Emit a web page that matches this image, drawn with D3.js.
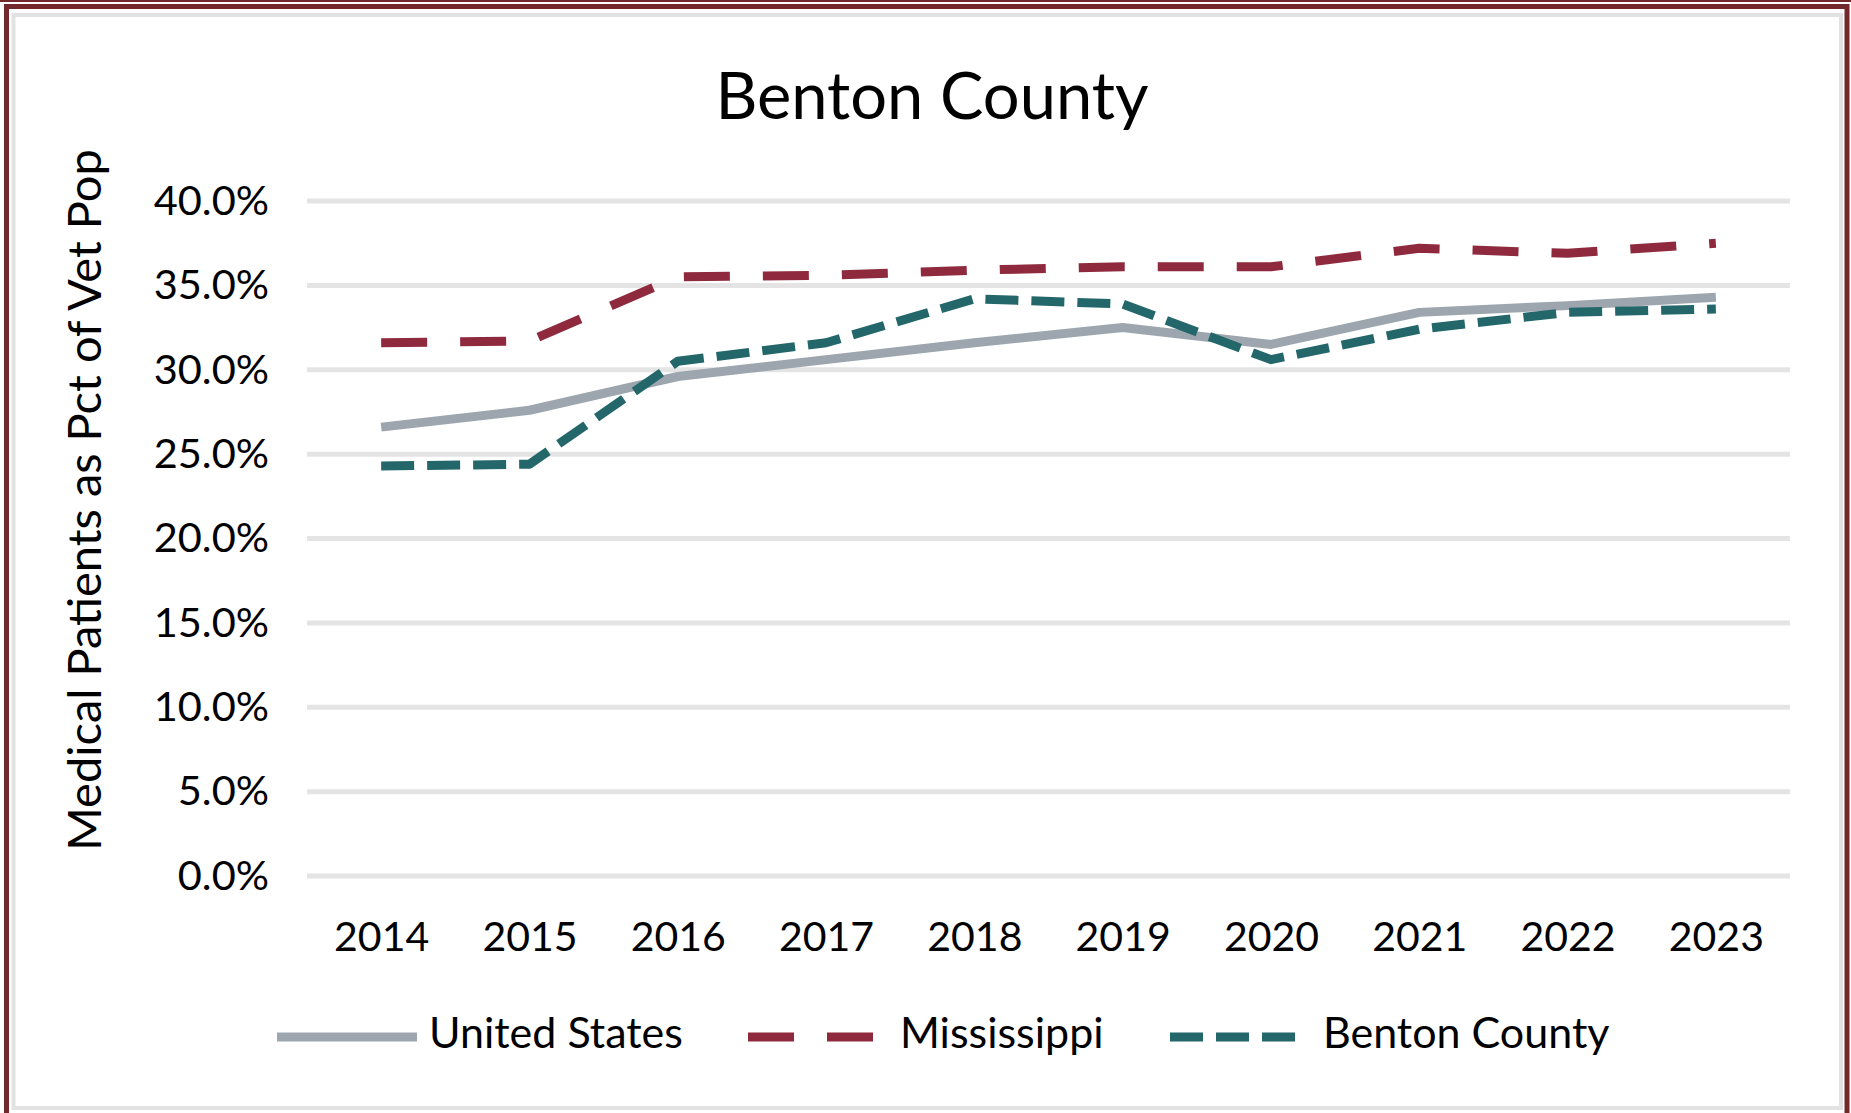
<!DOCTYPE html>
<html>
<head>
<meta charset="utf-8" />
<script src="https://cdn.jsdelivr.net/npm/d3@7"></script>
<style>
  html, body { margin: 0; padding: 0; background: #fff; }
  #svg-container { width: 1851px; height: 1113px; }
  text { font-family: Lato, "Open Sans", sans-serif; fill: #000; }
</style>
</head>
<body>
<div id="svg-container"></div>
<script>
////////////////////////////////////////////////////////////////////
////////////////////////////  Data  ////////////////////////////////
const years = [2014, 2015, 2016, 2017, 2018, 2019, 2020, 2021, 2022, 2023];
const usValues = [26.6, 27.6, 29.6, 30.6, 31.6, 32.5, 31.5, 33.4, 33.8, 34.3];
const msValues = [31.6, 31.7, 35.5, 35.6, 35.9, 36.1, 36.1, 37.2, 36.9, 37.5];
const bentonValues = [24.3, 24.4, 30.5, 31.6, 34.2, 33.9, 30.6, 32.4, 33.4, 33.6];
const yTicks = [0, 5, 10, 15, 20, 25, 30, 35, 40];
const seriesNames = ["United States", "Mississippi", "Benton County"];

////////////////////////////////////////////////////////////////////
////////////////////////////  Init  ////////////////////////////////
const width = 1851;
const height = 1113;
const margin = { top: 201, right: 61, bottom: 237, left: 307 };

const svg = d3
  .select("#svg-container")
  .append("svg")
  .attr("width", width)
  .attr("height", height);

// frame (dark red outer, light gray inner)
svg.append("rect").attr("width", width).attr("height", height).attr("fill", "#fff");
svg
  .append("line")
  .attr("x1", 0).attr("x2", width).attr("y1", 1).attr("y2", 1)
  .attr("stroke", "#73292b").attr("stroke-width", 2);
svg
  .append("rect")
  .attr("x", 6.5).attr("y", 6.5)
  .attr("width", 1840.5).attr("height", 1200)
  .attr("fill", "none").attr("stroke", "#73292b").attr("stroke-width", 5);
svg
  .append("rect")
  .attr("x", 13.5).attr("y", 15)
  .attr("width", 1827.5).attr("height", 1093)
  .attr("fill", "none").attr("stroke", "#e2e2e2").attr("stroke-width", 4);

// scale
const xScale = d3
  .scalePoint()
  .domain(years)
  .range([margin.left, width - margin.right])
  .padding(0.5);

const yScale = d3
  .scaleLinear()
  .domain([0, 40])
  .range([height - margin.bottom, margin.top]);

// gridlines
svg
  .append("g")
  .attr("class", "grid")
  .selectAll("line")
  .data(yTicks)
  .enter()
  .append("line")
  .attr("x1", margin.left)
  .attr("x2", width - margin.right)
  .attr("y1", (d) => yScale(d))
  .attr("y2", (d) => yScale(d))
  .attr("stroke", "#e4e4e4")
  .attr("stroke-width", 5);

// axis
const yAxis = d3
  .axisLeft(yScale)
  .tickValues(yTicks)
  .tickSize(0)
  .tickPadding(38)
  .tickFormat((d) => d.toFixed(1) + "%");

const xAxis = d3.axisBottom(xScale).tickSize(0).tickPadding(46);

svg
  .append("g")
  .attr("class", "y-axis")
  .attr("transform", `translate(${margin.left},0)`)
  .call(yAxis)
  .call((g) => g.select(".domain").remove())
  .selectAll("text")
  .attr("font-size", 41.5)
  .attr("font-family", "Lato")
  .attr("fill", "#000");

svg
  .append("g")
  .attr("class", "x-axis")
  .attr("transform", `translate(0, ${height - margin.bottom})`)
  .call(xAxis)
  .call((g) => g.select(".domain").remove())
  .selectAll("text")
  .attr("font-size", 41)
  .attr("font-family", "Lato")
  .attr("fill", "#000");

// title
svg
  .append("text")
  .attr("x", 932)
  .attr("y", 119)
  .attr("text-anchor", "middle")
  .attr("font-size", 65)
  .text("Benton County");

// y axis title
svg
  .append("text")
  .attr("transform", "translate(101, 500) rotate(-90)")
  .attr("text-anchor", "middle")
  .attr("font-size", 47)
  .text("Medical Patients as Pct of Vet Pop");

////////////////////////////////////////////////////////////////////
////////////////////////////  Lines  ///////////////////////////////
const line = d3
  .line()
  .x((d) => xScale(d.year))
  .y((d) => yScale(d.value));

const series = [
  { name: seriesNames[0], values: usValues, color: "#9da6ae", dash: null },
  { name: seriesNames[1], values: msValues, color: "#8f2a3e", dash: "46 33" },
  { name: seriesNames[2], values: bentonValues, color: "#24676b", dash: "33 13" },
];

series.forEach((s) => {
  svg
    .append("path")
    .datum(years.map((y, i) => ({ year: y, value: s.values[i] })))
    .attr("fill", "none")
    .attr("stroke", s.color)
    .attr("stroke-width", 9)
    .attr("stroke-linejoin", "round")
    .attr("stroke-dasharray", s.dash)
    .attr("d", line);
});

////////////////////////////////////////////////////////////////////
////////////////////////////  Legend  //////////////////////////////
const legendY = 1037;
const legendPos = [
  { x1: 277, x2: 417, tx: 429 },
  { x1: 748, x2: 876, tx: 900 },
  { x1: 1170, x2: 1296, tx: 1323 },
];

series.forEach((s, i) => {
  const p = legendPos[i];
  svg
    .append("line")
    .attr("x1", p.x1)
    .attr("x2", p.x2)
    .attr("y1", legendY)
    .attr("y2", legendY)
    .attr("stroke", s.color)
    .attr("stroke-width", 9)
    .attr("stroke-dasharray", s.dash);
  svg
    .append("text")
    .attr("x", p.tx)
    .attr("y", 1048)
    .attr("font-size", 43)
    .text(s.name);
});
</script>
</body>
</html>
